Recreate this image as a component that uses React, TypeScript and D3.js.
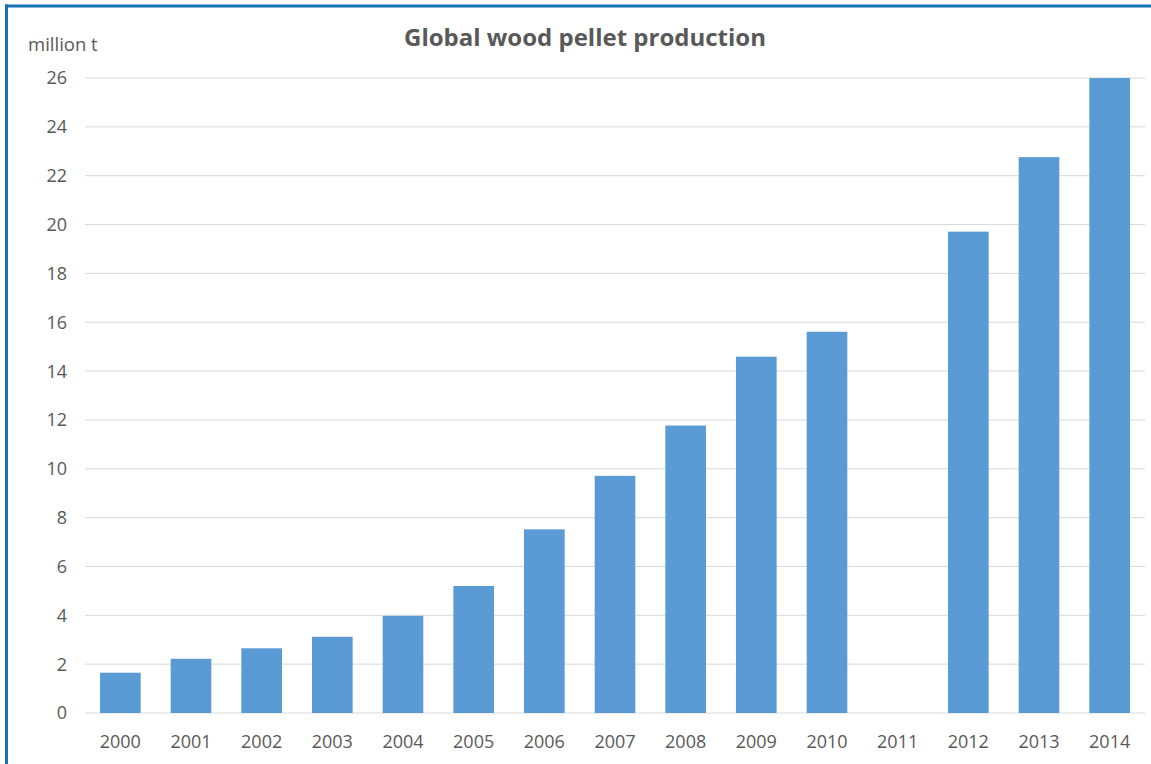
import React from "react";
import * as d3 from "d3";

const years = ["2000","2001","2002","2003","2004","2005","2006","2007","2008","2009","2010","2011","2012","2013","2014"];
const production: (number | null)[] = [1.65,2.22,2.65,3.12,3.98,5.2,7.52,9.71,11.77,14.59,15.61,null,19.71,22.76,26.0];
const yTicks = [0,2,4,6,8,10,12,14,16,18,20,22,24,26];
const title = "Global wood pellet production";
const unitLabel = "million t";

const W = 1151, H = 764;
const left = 85, right = 1145, top = 78, bottom = 713;
const font = "'Open Sans', 'Noto Sans', sans-serif";

export default function App() {
  const x = d3.scaleBand<string>().domain(years).range([left, right]).paddingInner(0.425).paddingOuter(0.2125);
  const y = d3.scaleLinear().domain([0, 26]).range([bottom, top]);
  return (
    <svg width={W} height={H} style={{ position: "absolute", left: 0, top: 0, background: "#fff" }}>
      <rect x={0} y={0} width={W} height={H} fill="#fff" />
      {yTicks.map((t) => (
        <g key={t}>
          <line x1={left} x2={right} y1={y(t)} y2={y(t)} stroke="#d9d9d9" strokeWidth={1} />
          <text x={67} y={y(t)} dy="0.36em" textAnchor="end" fontFamily={font} fontSize={18} fill="#595959">{t}</text>
        </g>
      ))}
      {years.map((yr, i) => {
        const v = production[i];
        return (
          <g key={yr}>
            {v != null && (
              <rect x={x(yr)} y={y(v)} width={x.bandwidth()} height={y(0) - y(v)} fill="#5b9bd5" />
            )}
            <text x={(x(yr) as number) + x.bandwidth() / 2} y={748} textAnchor="middle" fontFamily={font} fontSize={18} fill="#595959">{yr}</text>
          </g>
        );
      })}
      <text x={585} y={46} textAnchor="middle" fontFamily={font} fontSize={24} fontWeight="bold" fill="#595959">{title}</text>
      <text x={28} y={51} fontFamily={font} fontSize={18.5} fill="#595959">{unitLabel}</text>
      <line x1={6.5} x2={6.5} y1={4.5} y2={H} stroke="#1473b3" strokeWidth={3} />
      <line x1={5} x2={W} y1={6} y2={6} stroke="#1473b3" strokeWidth={3} />
    </svg>
  );
}
